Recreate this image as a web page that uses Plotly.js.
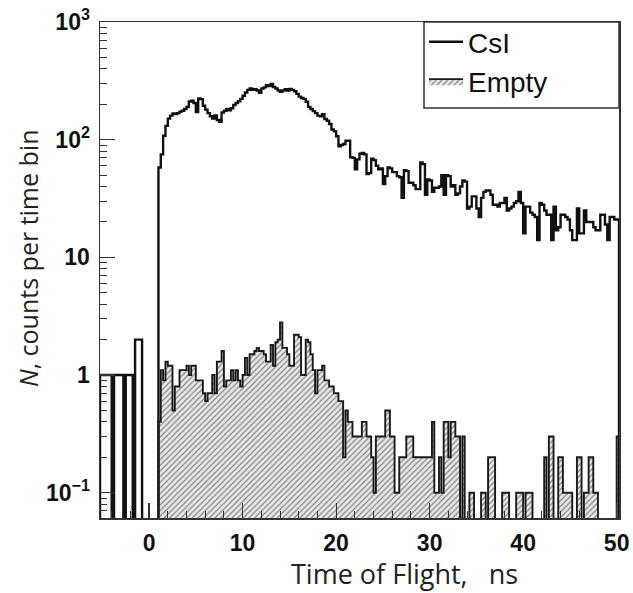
<!DOCTYPE html>
<html>
<head>
<meta charset="utf-8">
<script src="https://cdn.plot.ly/plotly-3.0.1.min.js"></script>
<style>
html,body{margin:0;padding:0;background:#fff;}
#chart{width:633px;height:593px;}
</style>
</head>
<body>
<div id="chart"></div>
<script>
// Histogram binning (time of flight, ns)
const binStart = -5.25;
const binWidth = 0.25;

// CsI target: counts per time bin (222 bins from -5.25 ns)
const csiCounts = [
  1,1,1,1,1, 0, 1,1,1,1, 0, 1,1,1, 0, 2,2,2, 0,0,0,0,0,0,0,
  58,75,108,131,151,160,167,165,168,173,
  176,182,190,211,214,205,172,224,221,194,
  180,168,158,151,161,147,142,170,176,182,
  178,185,197,205,212,222,236,252,265,273,
  265,268,262,250,272,278,290,285,297,280,
  272,262,255,262,268,262,270,265,258,245,
  232,226,222,210,190,182,175,168,160,158,
  165,150,145,136,122,118,107,88,90,92,
  98,98,71,70,56,68,76,77,75,51,
  52,69,67,60,56,57,42,49,58,57,
  53,53,49,48,32,55,54,43,43,41,
  38,38,64,62,34,46,45,36,39,39,
  40,50,34,50,49,40,41,34,35,40,
  45,44,26,27,33,33,26,22,32,36,
  37,37,34,28,28,27,29,29,32,25,
  26,27,29,30,36,29,16,27,27,24,
  23,22,14,29,28,25,23,23,14,27,
  17,18,23,23,22,21,17,14,14,26,
  16,16,25,20,20,20,18,17,17,23,
  23,19,14,22,22,21,
  21
];

// Empty target: counts per time bin (same binning)
const emptyCounts = [
  0,0,0,0,0,0,0,0,0,0,0,0,0,0,0,0,0,0,0,0,0,0,0,0,0,
  0.4,1.1,0.9,1.3,1.2,1.2,0.5,0.8,0.8,1.1,
  1.1,1.1,1.2,1.0,1.2,1.2,0.9,0.9,0.9,0.7,
  0.6,0.7,0.7,1.0,0.7,1.3,1.3,1.6,0.8,0.9,
  0.9,1.1,0.9,1.1,0.9,0.8,1.0,1.4,1.0,1.5,
  1.5,1.6,1.7,1.6,1.6,1.5,1.3,1.3,1.8,1.2,
  1.9,2.0,2.8,1.7,1.7,1.5,1.2,1.2,2.2,2.2,
  2.1,1.0,1.0,2.0,1.9,1.5,1.1,0.7,1.1,1.1,
  1.2,0.9,0.9,0.8,0.8,0.7,0.7,0.6,0.6,0.2,
  0.5,0.4,0.4,0.3,0.3,0.3,0.3,0.4,0.4,0.3,
  0.3,0.2,0.1,0.3,0.3,0.3,0.3,0.5,0.5,0.3,
  0.3,0.1,0.1,0.2,0.2,0.2,0.3,0.3,0.3,0.2,
  0.2,0.2,0.2,0.2,0.2,0.2,0.2,0.4,0.1,0.1,
  0.2,0.1,0.4,0.4,0.2,0.4,0.4,0.3,0.3,0,
  0.3,0,0,0.1,0.1,0,0,0,0.1,0.1,
  0,0.2,0.2,0.2,0,0,0,0.1,0.1,0.1,
  0,0,0,0.1,0.1,0.1,0,0.1,0.1,0.1,
  0,0,0,0,0,0.2,0,0.3,0.3,0,
  0,0.2,0.2,0.1,0.1,0.1,0.1,0,0,0.2,
  0.2,0,0.1,0.1,0.2,0.2,0.1,0.1,0,0,
  0,0,0,0,0,0,
  0.3
];

const seriesNames = ['CsI', 'Empty'];
const xTickStep = 10;
const yTickVals = [0.1, 1, 10, 100, 1000];
const yTickText = ['10<sup>\u22121</sup>', '1', '10', '10<sup>2</sup>', '10<sup>3</sup>'];
const xRange = [-5.25, 50.25];
const yLogRange = [-1.215, 3.0];

// below-axis level used to draw empty bins down to the frame (ROOT style)
const floorLevel = 1e-3;

function stepOutline(counts) {
  const xs = [binStart], ys = [floorLevel];
  counts.forEach(function (c, k) {
    const lo = binStart + k * binWidth;
    const hi = lo + binWidth;
    const v = c > 0 ? c : floorLevel;
    xs.push(lo, hi);
    ys.push(v, v);
  });
  xs.push(binStart + counts.length * binWidth);
  ys.push(floorLevel);
  return {x: xs, y: ys};
}

const minorY = [];
[0.1, 1, 10, 100].forEach(function (d) {
  for (let m = 2; m <= 9; m++) minorY.push(m * d);
});
[0.06, 0.07, 0.08, 0.09].forEach(function (v) { minorY.push(v); });

const emptyPath = stepOutline(emptyCounts);
const csiPath = stepOutline(csiCounts);

const traces = [
  {
    type: 'scatter', mode: 'lines',
    name: seriesNames[1],
    x: emptyPath.x, y: emptyPath.y,
    fill: 'toself',
    fillcolor: '#e2e2e2',
    fillpattern: {shape: '/', fgcolor: '#858585', bgcolor: '#e8e8e8', size: 4, solidity: 0.3},
    line: {color: '#1a1a1a', width: 1.9, simplify: false},
    legendrank: 2,
    hoverinfo: 'skip'
  },
  {
    type: 'scatter', mode: 'lines',
    name: seriesNames[0],
    x: csiPath.x, y: csiPath.y,
    line: {color: '#111111', width: 2.4, simplify: false},
    legendrank: 1,
    hoverinfo: 'skip'
  }
];

const tickFont = {family: 'Liberation Sans, Arial, sans-serif', size: 23, color: '#111', weight: 'bold'};

// legend frame (paper fractions of the plot area)
const legendLeft = 0.6243;
const legendBottom = 0.8266;

const layout = {
  width: 633, height: 593,
  margin: {l: 100, r: 14, t: 22, b: 75, pad: 0},
  paper_bgcolor: '#ffffff',
  plot_bgcolor: '#ffffff',
  font: {family: 'Liberation Sans, Arial, sans-serif', color: '#111'},
  showlegend: true,
  legend: {
    x: legendLeft, y: 1.01, xanchor: 'left', yanchor: 'top',
    bgcolor: 'rgba(0,0,0,0)', borderwidth: 0,
    font: {family: 'Liberation Sans, Arial, sans-serif', size: 28, color: '#111'},
    itemwidth: 34, tracegroupgap: 0
  },
  shapes: [
    {
      type: 'rect', xref: 'paper', yref: 'paper',
      x0: legendLeft, x1: 1, y0: legendBottom, y1: 1,
      line: {color: '#333', width: 1.5}, fillcolor: 'rgba(0,0,0,0)', layer: 'above'
    }
  ],
  xaxis: {
    range: xRange,
    tickmode: 'linear', tick0: 0, dtick: xTickStep,
    ticks: 'inside', ticklen: 15, tickwidth: 1.2, tickcolor: '#333',
    showline: true, linecolor: '#333', linewidth: 1.5, mirror: true,
    showgrid: false, zeroline: false,
    tickfont: tickFont,
    ticklabelstandoff: 4,
    minor: {tickmode: 'linear', tick0: 0, dtick: 2, ticks: 'inside', ticklen: 7, tickwidth: 1, tickcolor: '#333', showgrid: false}
  },
  yaxis: {
    type: 'log',
    range: yLogRange,
    tickmode: 'array', tickvals: yTickVals, ticktext: yTickText,
    ticks: 'inside', ticklen: 15, tickwidth: 1.2, tickcolor: '#333',
    showline: true, linecolor: '#333', linewidth: 1.5, mirror: true,
    showgrid: false, zeroline: false,
    tickfont: tickFont,
    ticklabelstandoff: 4,
    minor: {tickmode: 'array', tickvals: minorY, ticks: 'inside', ticklen: 7, tickwidth: 1, tickcolor: '#333', showgrid: false}
  },
  annotations: [
    {
      text: 'Time of Flight,\u00a0\u00a0\u00a0ns',
      xref: 'paper', yref: 'paper', x: 0.586, y: -0.1512,
      xanchor: 'center', yanchor: 'bottom', showarrow: false, borderpad: 0,
      font: {family: 'Open Sans, Noto Sans, sans-serif', size: 27, color: '#222'}
    },
    {
      text: '<i>N</i>, counts per time bin',
      xref: 'paper', yref: 'paper', x: -0.139, y: 0.524,
      xanchor: 'center', yanchor: 'middle', showarrow: false, textangle: -90,
      font: {family: 'Open Sans, Noto Sans, sans-serif', size: 25, color: '#222'}
    }
  ]
};

Plotly.newPlot('chart', traces, layout, {displayModeBar: false, staticPlot: true});
</script>
</body>
</html>
